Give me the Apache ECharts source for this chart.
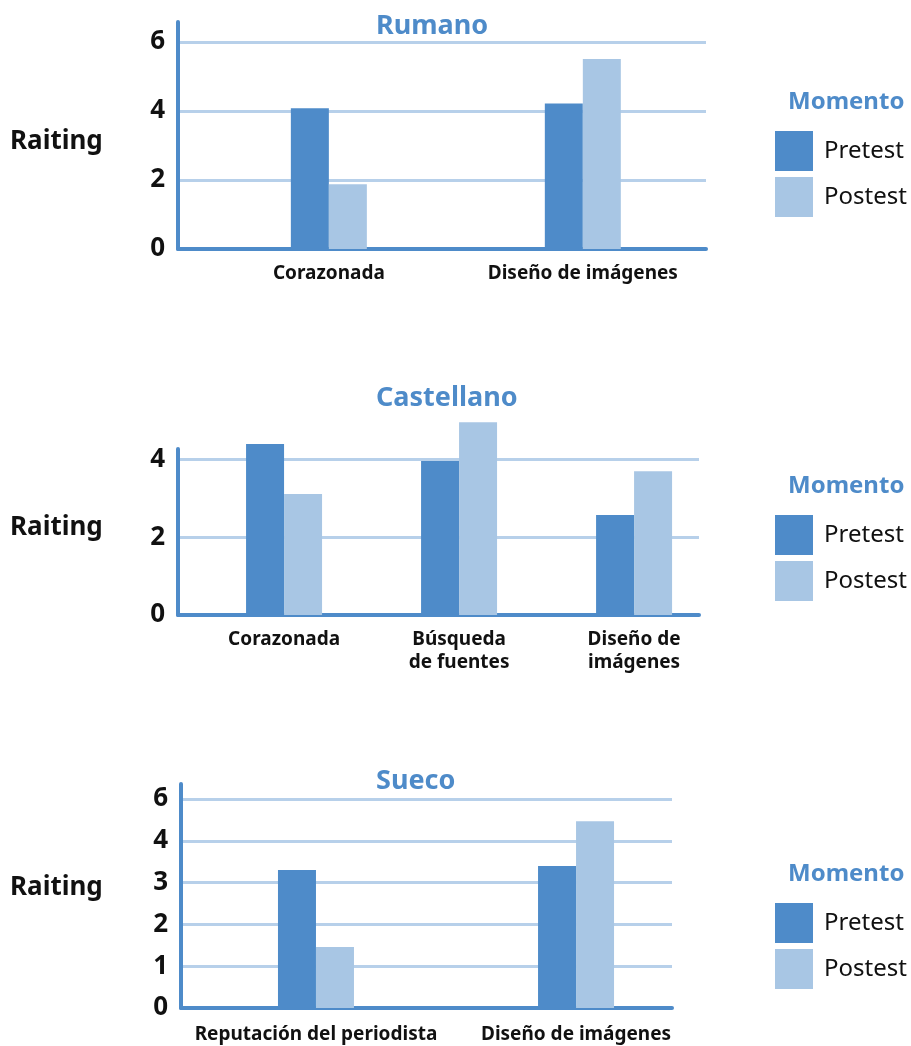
<!DOCTYPE html>
<html>
<head>
<meta charset="utf-8">
<script src="https://cdn.jsdelivr.net/npm/echarts@6/dist/echarts.min.js"></script>
<style>
  html, body { margin: 0; padding: 0; background: #ffffff; }
  #chart { width: 911px; height: 1046px; }
</style>
</head>
<body>
<div id="chart"></div>
<script>
// ---- data ----
const seriesNames = ['Pretest', 'Postest'];
const panelTitles = ['Rumano', 'Castellano', 'Sueco'];

const rumanoCategories = ['Corazonada', 'Diseño de imágenes'];
const rumanoPretest = [4.08, 4.22];
const rumanoPostest = [1.88, 5.51];
const rumanoTickValues = [0, 2, 4, 6];
const rumanoTickLabels = ['0', '2', '4', '6'];

const castellanoCategories = ['Corazonada', 'Búsqueda\nde fuentes', 'Diseño de\nimágenes'];
const castellanoPretest = [4.40, 3.96, 2.57];
const castellanoPostest = [3.11, 4.96, 3.70];
const castellanoTickValues = [0, 2, 4];
const castellanoTickLabels = ['0', '2', '4'];

// Sueco axis steps are evenly spaced but labelled 0,1,2,3,4,6
const suecoCategories = ['Reputación del periodista', 'Diseño de imágenes'];
const suecoPretest = [3.30, 3.40];
const suecoPostest = [1.46, 4.47];
const suecoTickValues = [0, 1, 2, 3, 4, 5];
const suecoTickLabels = ['0', '1', '2', '3', '4', '6'];

// ---- styles ----
const FONT = '"Noto Sans", "Open Sans", sans-serif';
const BLUE = '#4e8bc9';
const LIGHT = '#a8c6e4';
const GRID_LINE = '#b7d0ea';
const INK = '#111111';

// per-panel layout
const panels = [
  { cats: rumanoCategories, pre: rumanoPretest, post: rumanoPostest,
    tv: rumanoTickValues, tl: rumanoTickLabels, step: 2,
    grid: { left: 178, top: 22, width: 528, height: 227 }, yMax: 6.58, xMin: -0.594, xMax: 1.485,
    titleTop: 13, raitingY: 145, legendTop: 131, momentoTop: 90, labelMargin: 13 },
  { cats: castellanoCategories, pre: castellanoPretest, post: castellanoPostest,
    tv: castellanoTickValues, tl: castellanoTickLabels, step: 2,
    grid: { left: 178, top: 449, width: 521, height: 166 }, yMax: 4.27, xMin: -0.606, xMax: 2.371,
    titleTop: 385, raitingY: 531, legendTop: 515, momentoTop: 474, labelMargin: 13 },
  { cats: suecoCategories, pre: suecoPretest, post: suecoPostest,
    tv: suecoTickValues, tl: suecoTickLabels, step: 1,
    grid: { left: 181, top: 784, width: 491, height: 224 }, yMax: 5.36, xMin: -0.519, xMax: 1.369,
    titleTop: 768, raitingY: 891, legendTop: 903, momentoTop: 862, labelMargin: 15 }
];

const grids = [], xAxes = [], yAxes = [], series = [], titles = [], legends = [], graphics = [];

panels.forEach(function (p, k) {
  grids.push(Object.assign({ containLabel: false }, p.grid));

  xAxes.push({
    type: 'value', gridIndex: k, min: p.xMin, max: p.xMax,
    axisLine: { show: true, onZero: false, lineStyle: { color: BLUE, width: 4 } },
    axisTick: { show: false },
    splitLine: { show: false },
    axisLabel: {
      customValues: p.cats.map(function (c, i) { return i; }),
      formatter: function (v) { return p.cats[Math.round(v)] || ''; },
      margin: p.labelMargin, color: INK, fontFamily: FONT, fontWeight: 'bold',
      fontSize: 19, lineHeight: 23, align: 'center'
    }
  });

  yAxes.push({
    type: 'value', gridIndex: k, min: 0, max: p.yMax, interval: p.step,
    axisLine: { show: true, onZero: false, lineStyle: { color: BLUE, width: 4 } },
    axisTick: { show: false },
    splitLine: { show: true, showMaxLine: false, lineStyle: { color: GRID_LINE, width: 3 } },
    axisLabel: {
      customValues: p.tv,
      formatter: function (v) {
        const idx = p.tv.indexOf(Math.round(v * 100) / 100);
        return idx >= 0 ? p.tl[idx] : '';
      },
      margin: 13, color: INK, fontFamily: FONT, fontWeight: 'bold', fontSize: 26
    }
  });

  [p.pre, p.post].forEach(function (vals, s) {
    series.push({
      name: seriesNames[s], type: 'bar', xAxisIndex: k, yAxisIndex: k,
      barWidth: 38, barGap: '0%', clip: false, z: 1,
      itemStyle: { color: s === 0 ? BLUE : LIGHT },
      emphasis: { disabled: true },
      data: vals.map(function (v, i) { return [i, v]; })
    });
  });

  titles.push({
    text: panelTitles[k], left: 376, top: p.titleTop, padding: 0,
    textStyle: { color: BLUE, fontFamily: FONT, fontWeight: 'bold', fontSize: 27 }
  });
  titles.push({
    text: 'Momento', left: 788, top: p.momentoTop, padding: 0,
    textStyle: { color: BLUE, fontFamily: FONT, fontWeight: 'bold', fontSize: 24 }
  });

  legends.push({
    data: seriesNames, orient: 'vertical', left: 775, top: p.legendTop, padding: 0,
    icon: 'rect', itemWidth: 38, itemHeight: 40, itemGap: 6, selectedMode: false,
    textStyle: { color: INK, fontFamily: FONT, fontSize: 24, padding: [0, 0, 0, 6] }
  });

  graphics.push({
    type: 'text', left: 10, top: p.raitingY - 16,
    style: { text: 'Raiting', fill: INK, font: 'bold 26px ' + FONT }
  });
});

const chart = echarts.init(document.getElementById('chart'), null, { renderer: 'canvas' });
chart.setOption({
  backgroundColor: '#ffffff',
  animation: false,
  title: titles,
  legend: legends,
  grid: grids,
  xAxis: xAxes,
  yAxis: yAxes,
  series: series,
  graphic: graphics
});
</script>
</body>
</html>
